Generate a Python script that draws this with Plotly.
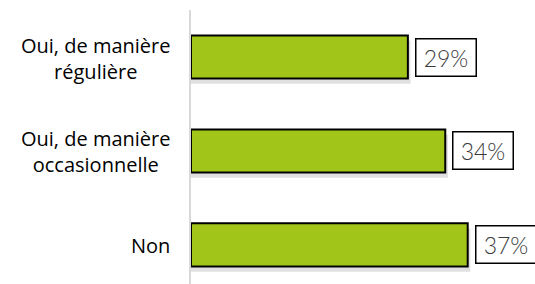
import plotly.graph_objects as go

categories = ["Oui, de manière<br>régulière", "Oui, de manière<br>occasionnelle", "Non"]
values = [29, 34, 37]
value_labels = ["29%", "34%", "37%"]

bar_color = "#A2C51A"

fig = go.Figure()
# soft shadow
fig.add_trace(go.Bar(
    x=[v + 0.35 for v in values], y=categories, orientation="h",
    marker=dict(color="rgba(0,0,0,0.12)", line=dict(width=0)),
    offset=-0.225 + 0.05, width=0.46, hoverinfo="skip", showlegend=False,
))
fig.add_trace(go.Bar(
    x=values, y=categories, orientation="h",
    marker=dict(color=bar_color, line=dict(color="#000000", width=2)),
    offset=-0.23, width=0.46, showlegend=False,
))

annotations = []
for c, v, t in zip(categories, values, value_labels):
    annotations.append(dict(
        x=v, y=c, xref="x", yref="y", text=t, showarrow=False,
        xanchor="left", yanchor="middle", xshift=7, yshift=0,
        font=dict(family="Lato", size=23, color="#3A3A3A", weight=300),
        bordercolor="#000000", borderwidth=1.5, borderpad=2,
        bgcolor="#FFFFFF", width=55, height=32,
    ))
    annotations.append(dict(
        x=0, y=c, xref="x", yref="y", text=c, showarrow=False,
        xanchor="right", yanchor="middle", align="center", xshift=-19, yshift=-1,
        font=dict(family="Open Sans", size=20, color="#000000"),
    ))

fig.update_layout(
    width=535, height=284,
    margin=dict(l=191, r=0, t=10, b=0),
    paper_bgcolor="white", plot_bgcolor="white",
    barmode="overlay",
    xaxis=dict(range=[0, 46], visible=False, fixedrange=True),
    yaxis=dict(type="category", range=[2.415, -0.5], showticklabels=False,
               showline=True, linecolor="#D9D9D9", linewidth=2, ticks="",
               showgrid=False, zeroline=False),
    annotations=annotations,
)

fig.write_html("out.html", config={"displayModeBar": False})

with open("out.html", encoding="utf-8") as f:
    html = f.read()
html = html.replace("<body>", '<body style="margin:0;padding:0;overflow:hidden">', 1)
with open("out.html", "w", encoding="utf-8") as f:
    f.write(html)
